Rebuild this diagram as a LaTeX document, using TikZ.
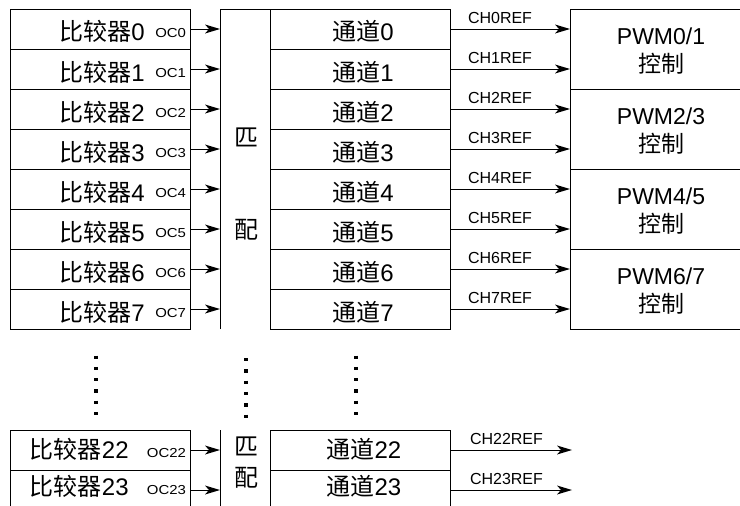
\documentclass[tikz,border=0pt]{standalone}
\usepackage{fontspec}
\setmainfont{Liberation Sans}
\newfontfamily\cjk{Noto Sans CJK SC}
\newfontfamily\ocfont[FakeStretch=1.15]{Liberation Sans}
\usetikzlibrary{arrows.meta}
\tikzset{
  arr/.style={-{Stealth[length=15pt,width=9pt,inset=4pt,line width=0pt]}, line width=0.9pt},
}
\begin{document}
\begin{tikzpicture}[x=1pt,y=-1pt, line width=0.9pt,
  every node/.style={inner sep=0pt, outer sep=0pt},
  cellbox/.style={draw, minimum width=180pt, minimum height=40pt},
  pwmbox/.style={draw, minimum width=182pt, minimum height=80pt},
  big/.style={font=\fontsize{24}{28}\selectfont},
  pwmfont/.style={font=\fontsize{23}{28}\selectfont, align=center},
  small/.style={font=\ocfont\fontsize{13}{15}\selectfont},
  reffont/.style={font=\fontsize{16}{18}\selectfont},
  dots/.style={line width=3.3pt, dash pattern=on 3.3pt off 8pt}]
\useasboundingbox (0,0) rectangle (740,506);

% match block (upper)
\node[minimum width=50pt, minimum height=320pt] (m1) at (245,169) {};
\draw (m1.south west) -- (m1.north west) -- (m1.north east);
\node[big, anchor=base] (m1a) at (246,146.5) {\cjk 匹};
\node[big, anchor=base] (m1b) at (246,238.5) {\cjk 配};

% PWM boxes
\foreach \j/\a/\b in {0/0/1,1/2/3,2/4/5,3/6/7}{
  \node[pwmbox] (p\j) at (661,{49+80*\j}) {};
  \node[pwmfont] (pt\j) at (661,{51+80*\j}) {PWM\a/\b\\{\cjk 控制}};
}

% upper rows
\foreach \i in {0,...,7}{
  \pgfmathsetmacro\yc{29+40*\i}
  \node[cellbox] (c\i) at (100,\yc) {};
  \node[big, anchor=base] (ct\i) at (102,\yc+12) {{\cjk 比较器}\i};
  \node[small, anchor=base east] (oc\i) at (186,\yc+8) {OC\i};
  \node[cellbox] (h\i) at (360,\yc) {};
  \node[big, anchor=base] (ht\i) at (363,\yc+12) {{\cjk 通道}\i};
  \draw[arr] (c\i.east) -- (c\i.east -| m1.west);
  \draw[arr] (h\i.east) -- (h\i.east -| p0.west);
  \node[reffont, anchor=base west] (r\i) at (468,\yc-5.5) {CH\i REF};
}

% dotted continuation
\draw[dots] (96,355.5) -- (96,416);
\draw[dots] (246,358) -- (246,418.5);
\draw[dots] (356,355.5) -- (356,416);

% lower match block
\node[minimum width=50pt, minimum height=80pt] (m2) at (245,470) {};
\draw (m2.south west) -- (m2.north west);
\node[big, anchor=base] (m2a) at (246,455.5) {\cjk 匹};
\node[big, anchor=base] (m2b) at (246,486.5) {\cjk 配};

% lower rows
\foreach \i/\yc/\tb/\ob in {22/450/458/457, 23/490/495/494}{
  \node[cellbox] (c\i) at (100,\yc) {};
  \node[big, anchor=base west] (ct\i) at (30,\tb) {{\cjk 比较器}\i};
  \node[small, anchor=base east] (oc\i) at (186,\ob) {OC\i};
  \node[cellbox] (h\i) at (360,\yc) {};
  \node[big, anchor=base] (ht\i) at (364,\tb) {{\cjk 通道}\i};
  \draw[arr] (c\i.east) -- (c\i.east -| m2.west);
  \coordinate (e\i) at (572,\yc);
  \draw[arr] (h\i.east) -- (e\i);
  \node[reffont, anchor=base west] (r\i) at (470,\yc-6) {CH\i REF};
}
\end{tikzpicture}
\end{document}
